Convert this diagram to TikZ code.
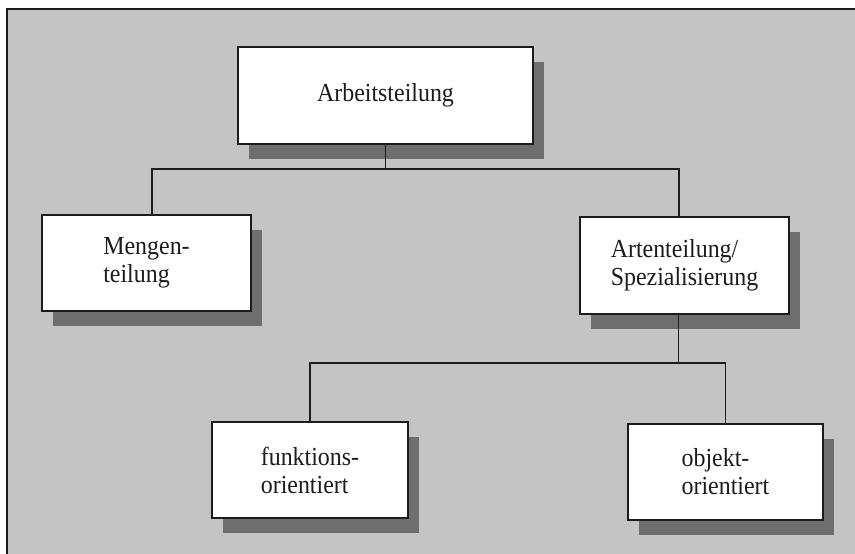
\documentclass[tikz,border=0pt]{standalone}
\usepackage{fontspec}
\setmainfont{Liberation Serif}
\newfontfamily\boxfont[FakeStretch=0.92]{Liberation Serif}
\usetikzlibrary{shadows}
\definecolor{bg}{HTML}{C4C4C4}
\definecolor{shade}{HTML}{6E6E6E}
\definecolor{ink}{HTML}{1C1C1C}
\begin{document}
\begin{tikzpicture}[x=1pt,y=-1pt,
  box/.style={draw=ink, line width=2pt, fill=white, inner sep=0pt,
    font=\boxfont\fontsize{26}{28}\selectfont, text=ink, align=left,
    drop shadow={shadow xshift=11pt, shadow yshift=-15pt, fill=shade, opacity=1}},
  conn/.style={draw=ink, line width=1.8pt}]
\useasboundingbox (0,0) rectangle (855,554);
\fill[white] (0,0) rectangle (855,554);
\fill[bg] (7,9) rectangle (855,554);
\draw[ink, line width=2.2pt] (7,554) -- (7,9) -- (855,9);

\node[box, minimum width=295pt, minimum height=97pt] (A) at (385.5,95.5) {Arbeitsteilung};
\node[box, minimum width=209pt, minimum height=96pt] (M) at (146.5,263) {Mengen-\\teilung};
\node[box, minimum width=209pt, minimum height=97pt] (S) at (684.5,265.5) {Artenteilung/\\Spezialisierung};
\node[box, minimum width=196pt, minimum height=96pt] (F) at (310,470) {funktions-\\orientiert};
\node[box, minimum width=195pt, minimum height=96pt] (O) at (725.5,472) {objekt-\\orientiert};

\coordinate (jA) at (385.5,169);
\coordinate (jS) at (678.5,363);
\draw[conn] (A.south) -- (jA);
\draw[conn] ([xshift=5.5pt]M.north) |- (jA) -| ([xshift=-5.5pt]S.north);
\draw[conn] ([xshift=-6pt]S.south) -- (jS);
\draw[conn] (F.north) |- (jS) -| (O.north);
\end{tikzpicture}
\end{document}
